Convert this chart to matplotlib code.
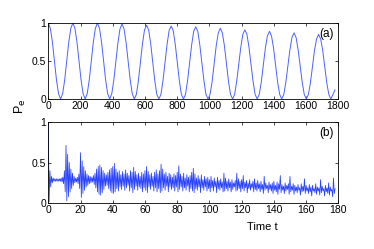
import numpy as np
import matplotlib
matplotlib.use("Agg")
import matplotlib.pyplot as plt
from matplotlib.ticker import FixedLocator, FixedFormatter

plt.rcParams['font.family'] = ['Liberation Sans', 'DejaVu Sans']

# ---- data ----
# (a) excited-state population, sampled every dt_top time units
dt_top = 12.71
pe_top = [
    1.00, 0.93, 0.75, 0.50, 0.25, 0.07, 0.00,
    0.07, 0.25, 0.50, 0.75, 0.93, 1.00, 0.93, 0.75, 0.50, 0.25, 0.07, 0.00,
    0.07, 0.25, 0.50, 0.75, 0.93, 1.00, 0.93, 0.75, 0.50, 0.25, 0.07, 0.00,
    0.07, 0.25, 0.50, 0.74, 0.92, 0.99, 0.92, 0.74, 0.50, 0.25, 0.07, 0.00,
    0.06, 0.24, 0.49, 0.73, 0.91, 0.97, 0.91, 0.73, 0.49, 0.24, 0.06, 0.00,
    0.06, 0.24, 0.48, 0.72, 0.90, 0.96, 0.90, 0.72, 0.48, 0.24, 0.06, 0.00,
    0.06, 0.24, 0.48, 0.71, 0.89, 0.95, 0.89, 0.71, 0.48, 0.24, 0.06, 0.00,
    0.06, 0.23, 0.47, 0.70, 0.87, 0.93, 0.87, 0.70, 0.47, 0.23, 0.06, 0.00,
    0.06, 0.23, 0.46, 0.68, 0.85, 0.91, 0.85, 0.68, 0.46, 0.23, 0.06, 0.00,
    0.06, 0.22, 0.45, 0.67, 0.83, 0.89, 0.83, 0.67, 0.45, 0.22, 0.06, 0.00,
    0.06, 0.22, 0.44, 0.65, 0.81, 0.87, 0.81, 0.65, 0.44, 0.22, 0.06, 0.00,
    0.06, 0.21, 0.43, 0.64, 0.79, 0.85, 0.79, 0.64, 0.43, 0.21, 0.06, 0.00,
    0.06, 0.12,
]

# (b) excited-state population, sampled every dt_bot time units
dt_bot = 0.5
pe_bot = [
    1.00, 0.02, 0.40, 0.20, 0.33, 0.25, 0.31, 0.27, 0.30, 0.27, 0.30, 0.27, 0.30, 0.27, 0.30, 0.27, 0.31, 0.26, 0.32, 0.24,
    0.40, 0.14, 0.71, 0.03, 0.60, 0.08, 0.50, 0.14, 0.42, 0.18, 0.37, 0.22, 0.33, 0.25, 0.31, 0.26, 0.32, 0.24, 0.36, 0.18,
    0.62, 0.07, 0.52, 0.12, 0.45, 0.16, 0.40, 0.20, 0.36, 0.22, 0.34, 0.24, 0.33, 0.25, 0.32, 0.26, 0.34, 0.23, 0.37, 0.19,
    0.42, 0.14, 0.45, 0.11, 0.47, 0.10, 0.44, 0.13, 0.40, 0.17, 0.37, 0.21, 0.35, 0.22, 0.38, 0.18, 0.41, 0.15, 0.43, 0.13,
    0.45, 0.12, 0.49, 0.14, 0.42, 0.18, 0.38, 0.15, 0.40, 0.20, 0.35, 0.17, 0.39, 0.21, 0.36, 0.16, 0.41, 0.19, 0.37, 0.22,
    0.34, 0.15, 0.40, 0.19, 0.38, 0.13, 0.44, 0.17, 0.39, 0.21, 0.35, 0.16, 0.37, 0.20, 0.33, 0.18, 0.38, 0.14, 0.36, 0.19,
    0.40, 0.16, 0.45, 0.13, 0.39, 0.20, 0.35, 0.17, 0.37, 0.21, 0.33, 0.15, 0.38, 0.19, 0.41, 0.14, 0.36, 0.18, 0.40, 0.13,
    0.48, 0.15, 0.42, 0.19, 0.36, 0.16, 0.38, 0.21, 0.33, 0.14, 0.37, 0.20, 0.35, 0.17, 0.32, 0.19, 0.36, 0.15, 0.34, 0.20,
    0.38, 0.14, 0.46, 0.17, 0.36, 0.20, 0.33, 0.15, 0.37, 0.19, 0.31, 0.16, 0.35, 0.21, 0.32, 0.14, 0.34, 0.18, 0.38, 0.15,
    0.43, 0.13, 0.36, 0.18, 0.31, 0.16, 0.34, 0.20, 0.30, 0.13, 0.35, 0.19, 0.29, 0.16, 0.33, 0.20, 0.30, 0.15, 0.32, 0.18,
    0.29, 0.14, 0.33, 0.19, 0.28, 0.15, 0.31, 0.20, 0.27, 0.13, 0.32, 0.18, 0.28, 0.16, 0.30, 0.19, 0.26, 0.14, 0.37, 0.15,
    0.31, 0.18, 0.27, 0.15, 0.30, 0.19, 0.26, 0.14, 0.29, 0.17, 0.25, 0.20, 0.28, 0.15, 0.37, 0.16, 0.30, 0.18, 0.27, 0.14,
    0.29, 0.18, 0.34, 0.15, 0.26, 0.19, 0.28, 0.13, 0.25, 0.18, 0.29, 0.16, 0.24, 0.19, 0.27, 0.14, 0.30, 0.17, 0.25, 0.15,
    0.28, 0.18, 0.24, 0.14, 0.27, 0.17, 0.23, 0.12, 0.33, 0.16, 0.25, 0.18, 0.22, 0.13, 0.26, 0.17, 0.23, 0.15, 0.25, 0.12,
    0.27, 0.16, 0.22, 0.14, 0.26, 0.11, 0.24, 0.17, 0.34, 0.13, 0.23, 0.16, 0.21, 0.12, 0.25, 0.15, 0.22, 0.17, 0.24, 0.11,
    0.33, 0.14, 0.21, 0.16, 0.24, 0.11, 0.22, 0.15, 0.20, 0.13, 0.23, 0.16, 0.19, 0.10, 0.24, 0.14, 0.21, 0.15, 0.30, 0.12,
    0.22, 0.15, 0.19, 0.12, 0.23, 0.14, 0.20, 0.09, 0.22, 0.15, 0.18, 0.13, 0.24, 0.11, 0.20, 0.15, 0.19, 0.10, 0.29, 0.13,
    0.21, 0.15, 0.18, 0.09, 0.22, 0.14, 0.19, 0.12, 0.25, 0.10, 0.20, 0.15, 0.17, 0.08, 0.31, 0.12, 0.18,
]

xticks_top = [0, 200, 400, 600, 800, 1000, 1200, 1400, 1600, 1800]
xticks_bot = [0, 20, 40, 60, 80, 100, 120, 140, 160, 180]
yticks = [0, 0.5, 1]
ytick_labels = ["0", "0.5", "1"]
panel_labels = ["(a)", "(b)"]

t_top = np.arange(len(pe_top)) * dt_top
t_bot = np.arange(len(pe_bot)) * dt_bot

W, H = 374, 249
fig = plt.figure(figsize=(W / 100, H / 100), dpi=100)

ax1 = fig.add_axes([48.3 / W, 1 - 99 / H, 290 / W, 76 / H])
ax2 = fig.add_axes([48.3 / W, 1 - 203.3 / H, 290 / W, 81.6 / H])

line_col = (0.30, 0.38, 1.0)
ax1.plot(t_top, pe_top, color=line_col, lw=0.7)
ax2.plot(t_bot, pe_bot, color=(0.15, 0.25, 1.0), lw=0.55)

for ax, xt, xmax, lab in [(ax1, xticks_top, 1800, panel_labels[0]),
                          (ax2, xticks_bot, 180, panel_labels[1])]:
    ax.set_xlim(0, xmax)
    ax.set_ylim(0, 1)
    ax.xaxis.set_major_locator(FixedLocator(xt))
    ax.set_xticklabels([str(v) for v in xt])
    ax.yaxis.set_major_locator(FixedLocator(yticks))
    ax.yaxis.set_major_formatter(FixedFormatter(ytick_labels))
    ax.tick_params(direction='in', top=True, right=True, length=2.5, width=0.5,
                   labelsize=7.5, pad=1.5, colors='black')
    for s in ax.spines.values():
        s.set_linewidth(0.6)
    ax.text(0.985, 0.93, lab, transform=ax.transAxes, ha='right', va='top', fontsize=8.5)

fig.text(20 / W, 1 - 106 / H, r'P$_\mathrm{e}$', rotation=90, ha='center', va='center', fontsize=9)
fig.text(262 / W, 1 - 227 / H, 'Time t', ha='center', va='center', fontsize=8)

fig.savefig('out.png', dpi=100)
